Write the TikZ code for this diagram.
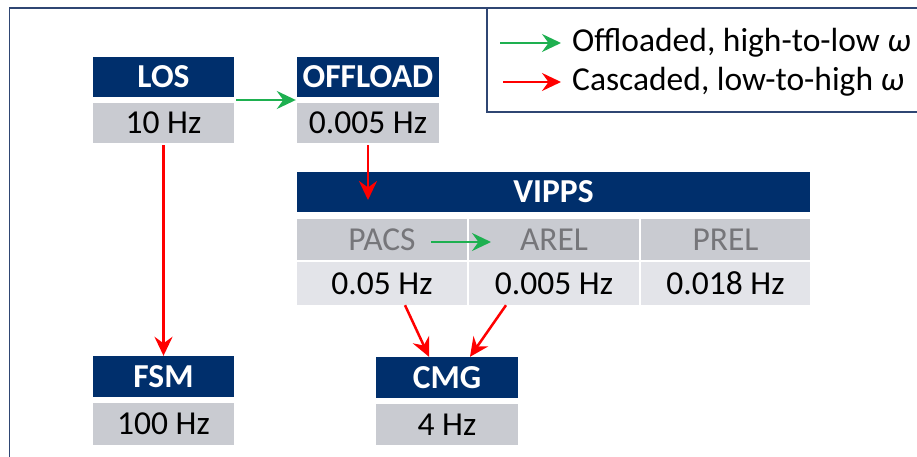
\documentclass[tikz,border=0pt]{standalone}
\usepackage{fontspec}
\setmainfont{Carlito}
\usetikzlibrary{arrows.meta,calc}
\definecolor{navy}{RGB}{0,47,108}
\definecolor{framecol}{RGB}{47,70,115}
\definecolor{cellgray}{RGB}{201,203,209}
\definecolor{celllight}{RGB}{227,228,233}
\definecolor{labelgray}{RGB}{118,118,122}
\definecolor{offgreen}{RGB}{30,176,80}
\definecolor{casred}{RGB}{255,0,0}
\tikzset{
  bigfont/.style={font=\fontsize{33.5}{38}\selectfont},
  head/.style={fill=navy, text=white, inner sep=0, minimum height=40,
    font=\bfseries\fontsize{33.5}{38}\selectfont},
  val/.style={fill=cellgray, text=black, inner sep=0, minimum height=40, bigfont},
  sub/.style={fill=cellgray, text=labelgray, inner sep=0, minimum height=41,
    minimum width=170, bigfont},
  subval/.style={fill=celllight, text=black, inner sep=0, minimum height=43,
    minimum width=170, bigfont},
  tip/.style={-{Stealth[length=19pt,width=18pt,inset=6.5pt]}},
  offl/.style={tip, draw=offgreen, line width=2.5pt},
  casc/.style={tip, draw=casred, line width=2.5pt},
  frameline/.style={draw=framecol, line width=1.6pt}
}
\begin{document}
\begin{tikzpicture}[x=1pt,y=-1pt]
\useasboundingbox (0,0) rectangle (917,457);

% outer frame and legend box
\draw[frameline] (917,8) -- (9.5,8) -- (9.5,457);
\draw[frameline] (917,112) -- (487,112) -- (487,8);

% legend
\coordinate (lg1a) at (500,43);
\coordinate (lg1b) at (561,43);
\coordinate (lg2a) at (503,82);
\coordinate (lg2b) at (561,82);
\draw[offl, line width=2pt] (lg1a) -- (lg1b);
\draw[casc, line width=2pt] (lg2a) -- (lg2b);
\node[anchor=base west, inner sep=0, bigfont] (lgt1) at (572,52) {Offloaded, high-to-low \textit{ω}};
\node[anchor=base west, inner sep=0, bigfont] (lgt2) at (572,91) {Cascaded, low-to-high \textit{ω}};

% LOS and OFFLOAD
\node[head, minimum width=141] (losh) at (163.5,77) {LOS};
\node[val, minimum width=141] (losv) at (163.5,123) {10 Hz};
\node[head, minimum width=142] (offh) at (368,77) {OFFLOAD};
\node[val, minimum width=142] (offv) at (368,123) {0.005 Hz};

% VIPPS table
\node[head, minimum width=513] (vipps) at (553.5,192) {VIPPS};
\node[sub] (pacs) at (382,239.5) {PACS};
\node[sub] (arel) at (554,239.5) {AREL};
\node[sub, minimum width=169] (prel) at (725.5,239.5) {PREL};
\node[subval] (pacsv) at (382,283.5) {0.05 Hz};
\node[subval] (arelv) at (554,283.5) {0.005 Hz};
\node[subval, minimum width=169] (prelv) at (725.5,283.5) {0.018 Hz};

% FSM and CMG
\node[head, minimum width=141, minimum height=41] (fsmh) at (163.5,376.5) {FSM};
\node[val, minimum width=141, minimum height=42] (fsmv) at (163.5,424) {100 Hz};
\node[head, minimum width=142, minimum height=41] (cmgh) at (447,377.5) {CMG};
\node[val, minimum width=142, minimum height=41] (cmgv) at (447,424.5) {4 Hz};

% connectors
\draw[offl] ($(losh.south east)!.5!(losv.north east)+(2,0)$)
  -- ($(offh.south west)!.5!(offv.north west)+(-1,0)$);
\draw[offl] ($(pacs.center)+(49,2.5)$) -- ($(arel.center)+(-63,2.5)$);
\draw[casc] ($(losv.south)+(0,2)$) -- (fsmh.north);
\draw[casc] ($(offv.south)+(0,2)$) -- ($(offv.south |- vipps.center)+(0,8)$);
\draw[casc] ($(pacsv.south)+(23,0)$) -- ($(cmgh.north)+(-18,0)$);
\draw[casc] ($(arelv.south)+(-48,0)$) -- ($(cmgh.north)+(23,0)$);
\end{tikzpicture}
\end{document}
